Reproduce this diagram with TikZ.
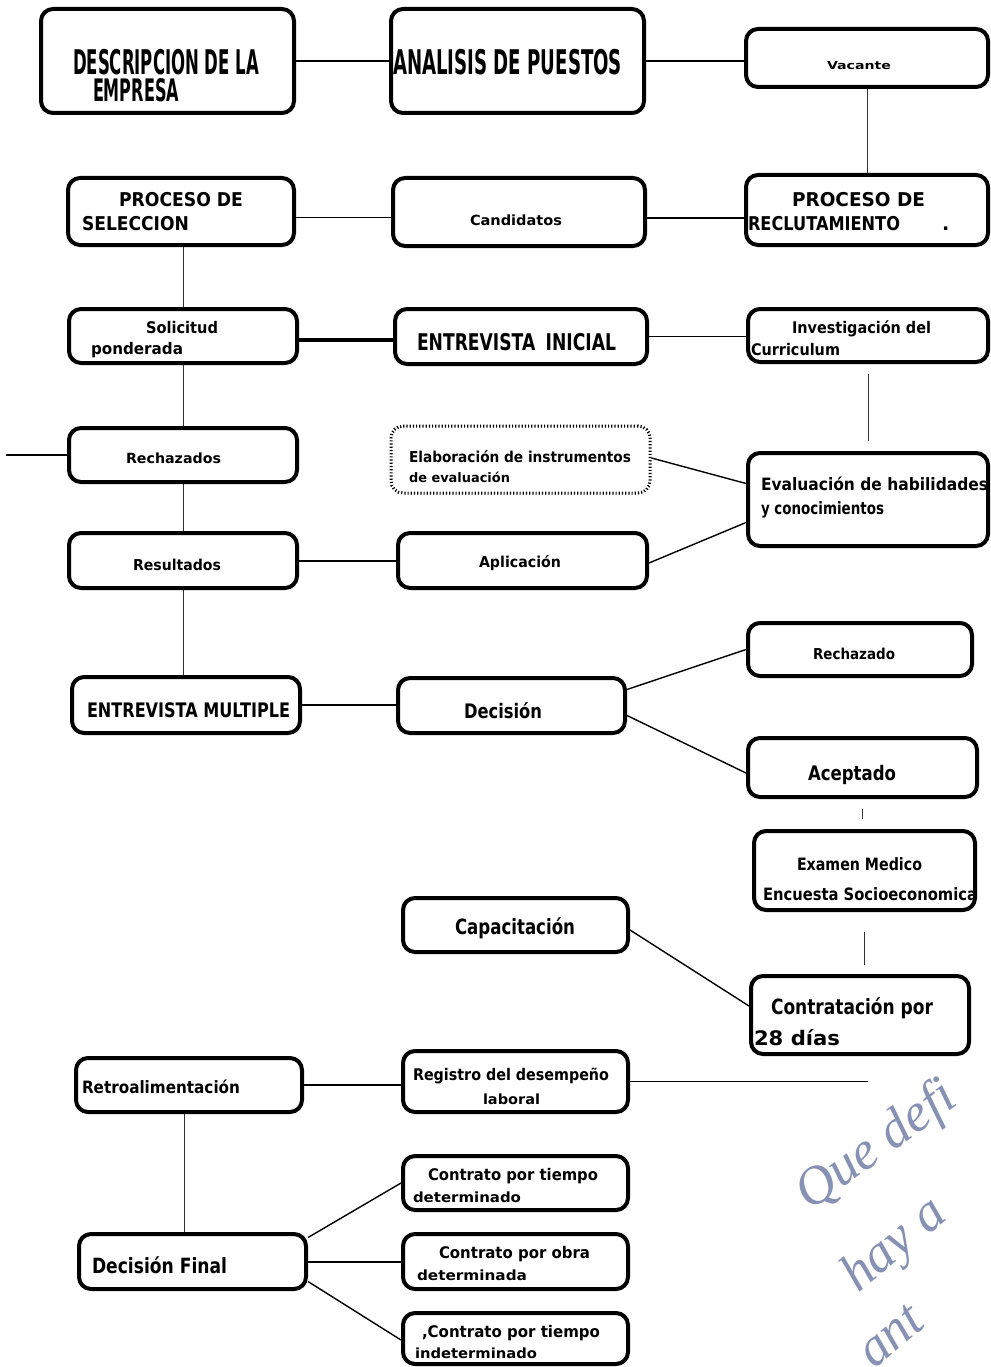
\documentclass[tikz,border=0pt]{standalone}
\usepackage{fontspec}
\usepackage{graphicx}
\setmainfont{DejaVu Sans}
\newfontfamily\handfont{Liberation Serif}
\newcommand\TT[3]{{\fontsize{#2}{#2}\selectfont\bfseries\resizebox{#1pt}{\height}{#3}}}
\definecolor{handcol}{RGB}{135,145,180}
\tikzset{
 box/.style={draw, line width=4pt, rounded corners=12pt, inner sep=0pt},
 dotbox/.style={draw, line width=3pt, dash pattern=on 1.2pt off 2pt, rounded corners=12pt, inner sep=0pt},
 conn/.style={line width=1.4pt},
 thinc/.style={line width=1pt, black!80},
 lbl/.style={anchor=base west, inner sep=0pt, outer sep=0pt},
 hand/.style={anchor=base west, inner sep=0pt, text=handcol, font=\handfont\itshape\fontsize{54}{54}\selectfont},
}
\begin{document}
\begin{tikzpicture}[x=1pt,y=-1pt]
\useasboundingbox (0,0) rectangle (990,1367);
\fill[white] (0,0) rectangle (990,1367);
% boxes
\node[box, minimum width=253, minimum height=104] (desc) at (167.5,61) {};
\node[box, minimum width=253, minimum height=104] (anal) at (517.5,61) {};
\node[box, minimum width=242, minimum height=58] (vac) at (867,58) {};
\node[box, minimum width=226, minimum height=67] (sel) at (181,211.5) {};
\node[box, minimum width=252, minimum height=68] (cand) at (519,212) {};
\node[box, minimum width=242, minimum height=70] (recl) at (867,210) {};
\node[box, minimum width=228, minimum height=54] (sol) at (183,336) {};
\node[box, minimum width=252, minimum height=55] (ent) at (521,336.5) {};
\node[box, minimum width=240, minimum height=53] (inv) at (868,335.5) {};
\node[box, minimum width=228, minimum height=54] (rec) at (183,455) {};
\node[dotbox, minimum width=259, minimum height=67] (elab) at (520.5,459.5) {};
\node[box, minimum width=240, minimum height=93] (eval) at (868,499.5) {};
\node[box, minimum width=228, minimum height=55] (res) at (183,560.5) {};
\node[box, minimum width=249, minimum height=55] (apl) at (522.5,560.5) {};
\node[box, minimum width=228, minimum height=56] (em) at (186,705) {};
\node[box, minimum width=227, minimum height=55] (dec) at (511.5,705.5) {};
\node[box, minimum width=224, minimum height=53] (rch) at (860,649.5) {};
\node[box, minimum width=229, minimum height=59] (acp) at (862.5,767.5) {};
\node[box, minimum width=221, minimum height=79] (ex) at (864.5,870.5) {};
\node[box, minimum width=225, minimum height=54] (cap) at (515.5,925) {};
\node[box, minimum width=218, minimum height=78] (con) at (860,1015) {};
\node[box, minimum width=226, minimum height=54] (ret) at (189,1085) {};
\node[box, minimum width=225, minimum height=61] (reg) at (515.5,1081.5) {};
\node[box, minimum width=227, minimum height=55] (df) at (192.5,1261.5) {};
\node[box, minimum width=225, minimum height=54] (ctd) at (515.5,1183) {};
\node[box, minimum width=225, minimum height=55] (cod) at (515.5,1261.5) {};
\node[box, minimum width=225, minimum height=51] (cti) at (515.5,1338.5) {};
% labels
\node[lbl] (t1) at (73,75) {\TT{186}{34}{DESCRIPCION DE LA}};
\node[lbl] (t2) at (93,102) {\TT{86}{31}{EMPRESA}};
\node[lbl] (t3) at (393,75) {\TT{229}{34}{ANALISIS DE PUESTOS}};
\node[lbl] (t4) at (827,70) {\TT{64}{11}{Vacante}};
\node[lbl] (t5) at (119,207) {\TT{124}{19}{PROCESO DE}};
\node[lbl] (t6) at (82,230) {\TT{107}{19}{SELECCION}};
\node[lbl] (t7) at (470,225) {\TT{92}{14}{Candidatos}};
\node[lbl] (t8) at (792,207) {\TT{133}{19}{PROCESO DE}};
\node[lbl] (t9) at (748,230) {\TT{152}{19}{RECLUTAMIENTO}};
\node[lbl] (t9b) at (942,230) {\fontsize{19}{19}\selectfont\bfseries .};
\node[lbl] (t10) at (146,333) {\TT{72}{16}{Solicitud}};
\node[lbl] (t11) at (91,354) {\TT{92}{16}{ponderada}};
\node[lbl] (t12) at (417,350) {\TT{199}{23}{ENTREVISTA\hspace{0.6em}INICIAL}};
\node[lbl] (t13) at (792,333) {\TT{139}{16}{Investigación del}};
\node[lbl] (t14) at (751,355) {\TT{89}{16}{Curriculum}};
\node[lbl] (t15) at (126,463) {\TT{95}{14}{Rechazados}};
\node[lbl] (t16) at (409,462) {\TT{222}{15}{Elaboración de instrumentos}};
\node[lbl] (t17) at (409,482) {\TT{101}{13}{de evaluación}};
\node[lbl] (t18) at (761,490) {\TT{227}{17}{Evaluación de habilidades}};
\node[lbl] (t19) at (761,514) {\TT{123}{17}{y conocimientos}};
\node[lbl] (t20) at (133,570) {\TT{88}{15}{Resultados}};
\node[lbl] (t21) at (479,567) {\TT{82}{15}{Aplicación}};
\node[lbl] (t22) at (87,717) {\TT{203}{20}{ENTREVISTA MULTIPLE}};
\node[lbl] (t23) at (464,718) {\TT{78}{20}{Decisión}};
\node[lbl] (t24) at (813,659) {\TT{82}{15}{Rechazado}};
\node[lbl] (t25) at (808,780) {\TT{88}{20}{Aceptado}};
\node[lbl] (t26) at (797,870) {\TT{125}{17}{Examen Medico}};
\node[lbl] (t27) at (763,900) {\TT{214}{17}{Encuesta Socioeconomica}};
\node[lbl] (t28) at (455,934) {\TT{120}{21}{Capacitación}};
\node[lbl] (t29) at (771,1014) {\TT{162}{21}{Contratación por}};
\node[lbl] (t30) at (754,1045) {\TT{86}{20}{28 días}};
\node[lbl] (t31) at (82,1093) {\TT{158}{17}{Retroalimentación}};
\node[lbl] (t32) at (413,1080) {\TT{196}{16}{Registro del desempeño}};
\node[lbl] (t33) at (483,1104) {\TT{57}{14}{laboral}};
\node[lbl] (t34) at (92,1273) {\TT{135}{21}{Decisión Final}};
\node[lbl] (t35) at (428,1180) {\TT{170}{16}{Contrato por tiempo}};
\node[lbl] (t36) at (413,1202) {\TT{108}{14}{determinado}};
\node[lbl] (t37) at (439,1258) {\TT{151}{16}{Contrato por obra}};
\node[lbl] (t38) at (417,1280) {\TT{110}{14}{determinada}};
\node[lbl] (t39) at (422,1337) {\TT{178}{16}{,Contrato por tiempo}};
\node[lbl] (t40) at (415,1358) {\TT{122}{14}{indeterminado}};
% connectors
\draw[conn, line width=2pt] (desc.east) -- (anal.west);
\draw[conn, line width=1.8pt] (anal.east) -- (anal.east -| vac.west);
\draw[thinc] (vac.south) -- (vac.south |- recl.north);
\draw[conn, line width=1.8pt] ([yshift=-6pt]sel.east) -- ([yshift=-6pt]sel.east -| cand.west);
\draw[conn, line width=1.8pt] ([yshift=-6pt]cand.east) -- ([yshift=-6pt]cand.east -| recl.west);
\draw[thinc] (sol.north |- sel.south) -- (sol.north);
\draw[conn, line width=4pt] ([yshift=-4pt]sol.east) -- ([yshift=-4pt]sol.east -| ent.west);
\draw[conn] (ent.east) -- (ent.east -| inv.west);
\draw[thinc, shorten <=10pt, shorten >=10pt] (inv.south) -- (inv.south |- eval.north);
\draw[thinc] (sol.south) -- (rec.north);
\coordinate (lend) at (6,455);
\draw[conn] (rec.west) -- (lend);
\draw[thinc] (rec.south) -- (res.north);
\draw[conn] ([yshift=1.5pt]elab.east) -- ([yshift=16pt]eval.west);
\draw[conn, line width=2pt] (res.east) -- (apl.west);
\draw[conn] ([yshift=-2.5pt]apl.east) -- ([yshift=-23pt]eval.west);
\draw[thinc] (res.south) -- (res.south |- em.north);
\draw[conn, line width=1.8pt] (em.east) -- (em.east -| dec.west);
\draw[conn] ([yshift=16pt]dec.east) -- (rch.west);
\draw[conn] ([yshift=-10pt]dec.east) -- ([yshift=-5.5pt]acp.west);
\draw[thinc, shorten <=10pt, shorten >=10pt] (acp.south) -- (acp.south |- ex.north);
\draw[thinc, shorten <=20pt, shorten >=9pt] (ex.south) -- (ex.south |- con.north);
\draw[conn] ([yshift=-5pt]cap.east) -- ([yshift=9pt]con.west);
\draw[conn, line width=2pt] (ret.east) -- (ret.east -| reg.west);
\coordinate (rend) at (868,1080);
\draw[conn] (reg.east) -- (reg.east -| rend);
\draw[thinc] ([xshift=-5pt]ret.south) -- ([xshift=-5pt]ret.south |- df.north);
\draw[conn] ([yshift=24pt]df.east) -- (ctd.west);
\draw[conn, line width=2pt] (df.east) -- (df.east -| cod.west);
\draw[conn] ([yshift=-20pt]df.east) -- ([yshift=-1.5pt]cti.west);
% handwriting
\begin{scope}
\clip (0,0) rectangle (990,1367);
\node[hand, rotate=36] (h1) at (810,1212) {Que defi};
\node[hand, rotate=40] (h2) at (858,1294) {hay a};
\node[hand, rotate=40] (h3) at (874,1370) {ant};
\end{scope}
\end{tikzpicture}
\end{document}
